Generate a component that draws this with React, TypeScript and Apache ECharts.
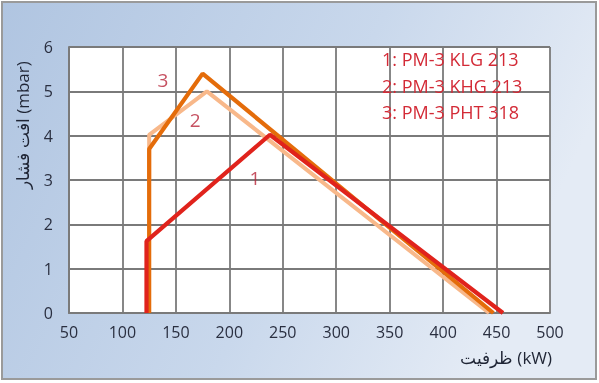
import React, { useEffect, useRef } from "react";
import * as echarts from "echarts";

const xTicks = [50, 100, 150, 200, 250, 300, 350, 400, 450, 500];
const series1: [number, number][] = [[122.5, 0], [122.5, 1.62], [238, 4.02], [456, 0]];
const series2: [number, number][] = [[125, 3.0], [125, 4.02], [179, 5.0], [443, 0]];
const series3: [number, number][] = [[125, 0], [125, 3.7], [175, 5.4], [447, 0]];
const curveLabels: [number, number, string][] = [[224, 3.05, "1"], [168, 4.35, "2"], [138, 5.25, "3"]];
const legendLines = ["1: PM-3 KLG 213", "2: PM-3 KHG 213", "3: PM-3 PHT 318"];
const yTitle = "افت فشار (mbar)";
const xTitle = "ظرفیت (kW)";

export default function App() {
  const ref = useRef<HTMLDivElement>(null);
  useEffect(() => {
    const chart = echarts.init(ref.current!, null, { renderer: "svg" });
    const font = "'Open Sans', sans-serif";
    chart.setOption({
      animation: false,
      grid: { left: 69, right: 49, top: 47, bottom: 70, show: true, backgroundColor: "#ffffff", borderWidth: 0 },
      xAxis: {
        type: "value", min: 50, max: 500, interval: 50,
        axisLine: { show: true, lineStyle: { color: "#7a7a7a", width: 2 } },
        axisTick: { show: false },
        splitLine: { show: true, lineStyle: { color: "#7a7a7a", width: 1.8 } },
        axisLabel: { color: "#2a2f40", fontSize: 16, fontFamily: font, margin: 11,
          formatter: (v: number) => (xTicks.includes(v) ? String(v) : "") },
      },
      yAxis: {
        type: "value", min: 0, max: 6, interval: 1,
        axisLine: { show: true, lineStyle: { color: "#7a7a7a", width: 2 } },
        axisTick: { show: false },
        splitLine: { show: true, lineStyle: { color: "#7a7a7a", width: 1.8 } },
        axisLabel: { color: "#2a2f40", fontSize: 16, fontFamily: font, margin: 16 },
      },
      graphic: [
        {
          type: "rect", z: -10, silent: true,
          shape: { x: 2, y: 2, width: 594, height: 377 },
          style: {
            fill: new echarts.graphic.LinearGradient(0, 0, 1, 0.3, [
              { offset: 0, color: "#b0c5e1" },
              { offset: 0.6, color: "#c9d8ec" },
              { offset: 1, color: "#e4ebf5" },
            ]),
            stroke: "#9a9a9a", lineWidth: 2,
          },
        },
        ...legendLines.map((t, i) => ({
          type: "text", left: 382, top: 50 + i * 26.5, z: 10,
          style: { text: t, fill: "#d32a36", fontSize: 18, fontFamily: font },
        })),
        {
          type: "text", x: 22, y: 125, rotation: Math.PI / 2, z: 10,
          style: { text: yTitle, fill: "#1f2535", fontSize: 17, fontFamily: font, align: "center", verticalAlign: "middle" },
        },
        {
          type: "text", x: 506, y: 357, z: 10,
          style: { text: xTitle, fill: "#1f2535", fontSize: 17, fontFamily: font, align: "center", verticalAlign: "middle" },
        },
      ],
      series: [
        { type: "line", data: series2, symbol: "none", z: 2, lineStyle: { color: "#f8b88a", width: 4 } },
        { type: "line", data: series3, symbol: "none", z: 3, lineStyle: { color: "#e46c0a", width: 4.2 } },
        { type: "line", data: series1, symbol: "none", z: 4, lineStyle: { color: "#e0231c", width: 4.2 } },
        {
          type: "scatter", symbolSize: 0, z: 5,
          data: curveLabels.map(([x, y, t]) => ({ value: [x, y], name: t })),
          label: { show: true, position: "inside", formatter: (p: any) => p.name, color: "#b8253a", fontSize: 19, fontFamily: font },
        },
      ],
    });
    return () => chart.dispose();
  }, []);
  return <div ref={ref} style={{ position: "fixed", left: 0, top: 0, width: 599, height: 383 }} />;
}
